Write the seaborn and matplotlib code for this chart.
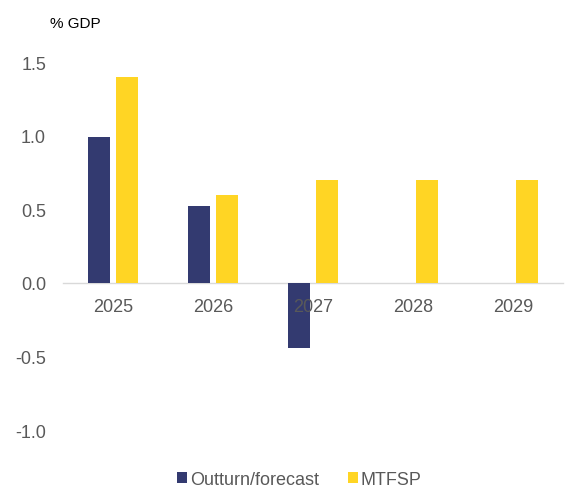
import matplotlib
matplotlib.use("Agg")
import matplotlib.pyplot as plt
import seaborn as sns
import pandas as pd
from matplotlib.patches import Patch

years = ["2025", "2026", "2027", "2028", "2029"]
outturn = [0.99, 0.52, -0.44, None, None]
mtfsp = [1.40, 0.60, 0.70, 0.70, 0.70]
series_names = ["Outturn/forecast", "MTFSP"]
colors = ["#333A70", "#FFD524"]

rows = []
for y, v in zip(years, outturn):
    rows.append({"year": y, "series": series_names[0], "value": v})
for y, v in zip(years, mtfsp):
    rows.append({"year": y, "series": series_names[1], "value": v})
df = pd.DataFrame(rows)

sns.set_theme(style="white")
plt.rcParams['font.family'] = ['Liberation Sans', 'DejaVu Sans']

fig = plt.figure(figsize=(5.76, 4.89), dpi=100)
ax = fig.add_axes([0.109, 0.1186, 0.868, 0.7524])

sns.barplot(data=df, x="year", y="value", hue="series", order=years,
            hue_order=series_names, palette=colors, width=0.56, gap=0.214,
            ax=ax, legend=False, saturation=1, linewidth=0)
for p in ax.patches:
    p.set_zorder(1)

ax.set_ylim(-1.0, 1.5)
ax.set_xlim(-0.5, 4.5)
ax.set_yticks([-1.0, -0.5, 0.0, 0.5, 1.0, 1.5])
ax.set_yticklabels([f"{t:.1f}" for t in [-1.0, -0.5, 0.0, 0.5, 1.0, 1.5]])
ax.set_xlabel("")
ax.set_ylabel("")
for s in ["top", "right", "left"]:
    ax.spines[s].set_visible(False)
ax.spines["bottom"].set_position(("data", 0))
ax.spines["bottom"].set_color("#D9D9D9")
ax.spines["bottom"].set_linewidth(1.0)
ax.spines["bottom"].set_zorder(0.8)
ax.xaxis.set_zorder(3)
ax.tick_params(axis="x", length=0, pad=11, labelsize=13, labelcolor="#595959")
ax.tick_params(axis="y", length=0, pad=12, labelsize=13, labelcolor="#595959")
for lab in ax.get_yticklabels():
    lab.set_horizontalalignment("right")

fig.text(0.087, 0.95, "% GDP", fontsize=11, color="#000000", ha="left", va="center")

handles = [Patch(facecolor=c, edgecolor="none") for c in colors]
fig.legend(handles, series_names, loc="center", bbox_to_anchor=(0.52, 0.018),
           ncol=2, frameon=False, fontsize=13, labelcolor="#595959",
           handlelength=0.55, handleheight=0.55, handletextpad=0.15,
           columnspacing=1.6)

fig.savefig("out.png", dpi=100)
